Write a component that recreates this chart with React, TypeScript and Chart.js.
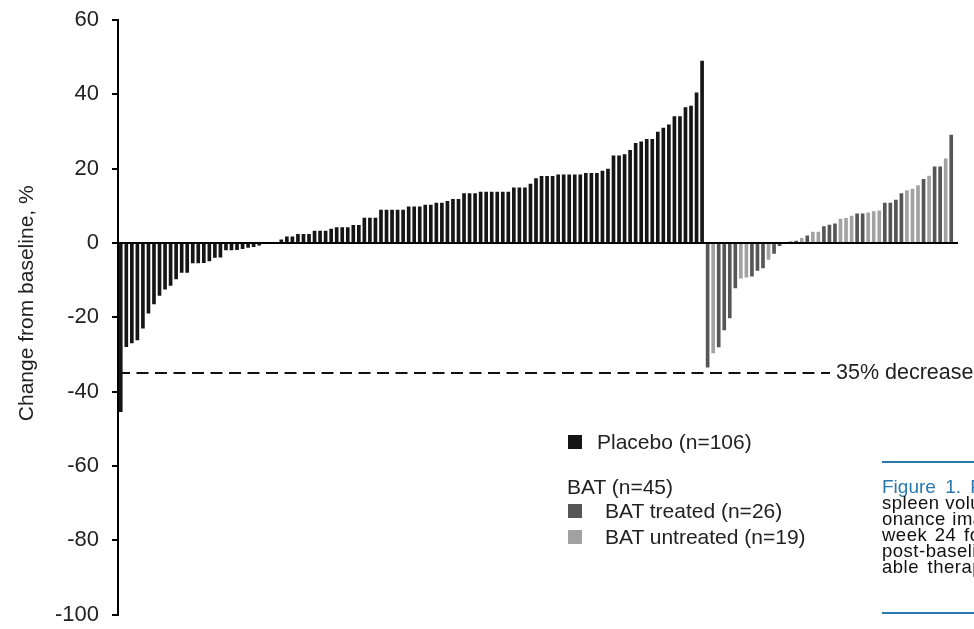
import React, { useEffect, useRef } from 'react';
import { Chart, registerables } from 'chart.js';

Chart.register(...registerables);

// Placebo patients, sorted (n=106)
const placeboValues: number[] = [
  -45.5, -28, -27, -26.2, -23, -19, -16.5, -14.2, -12.5, -11.5, -9.8, -8, -8, -5.5, -5.5, -5.4, -4.9, -4, -3.9,
  -2, -2, -1.9, -1.6, -1.3, -1.1, -0.7, -0.3, -0.1, 0.2,
  0.9, 1.7, 1.7, 2.4, 2.4, 2.4, 3.3, 3.3, 3.3, 3.8, 4.2, 4.2, 4.2, 4.8, 4.8, 6.8, 6.8, 6.8,
  8.9, 8.9, 8.9, 8.9, 8.9,
  9.8, 9.8, 9.8, 10.3, 10.3, 10.8, 10.8, 11.3, 11.8, 11.8, 13.4, 13.4, 13.4,
  13.8, 13.8, 13.8, 13.8, 13.8, 13.8, 14.9, 14.9, 14.9, 15.9, 17.4, 18.0, 18.0, 18.0,
  18.4, 18.4, 18.4, 18.4, 18.4, 18.8, 18.8, 18.8, 19.4, 20.0, 23.5, 23.5, 23.9, 25.0,
  26.9, 27.3, 28.0, 28.0, 29.9, 31.0, 31.9, 34.1, 34.1, 36.5, 36.9, 40.5, 49.0,
];

// BAT patients, sorted (n=45)
const batValues: number[] = [
  -33.5, -29.7, -28.1, -23.5, -20.3, -12.2, -9.6, -9.3, -9.0, -7.5, -6.8, -4.5, -2.9, -0.8, 0.1,
  0.4, 0.6, 1.3, 2.0, 3.0, 3.0, 4.5, 4.9, 5.2, 6.5, 6.7, 7.3, 7.9, 7.9, 8.2, 8.5, 8.7,
  10.8, 10.8, 11.6, 13.4, 14.2, 14.6, 15.5, 17.2, 18.1, 20.6, 20.6, 22.7, 29.1,
];

// T = BAT treated (n=26), U = BAT untreated (n=19)
const batGroups: string[] = [
  'T', 'U', 'T', 'T', 'T', 'T', 'U', 'U', 'T', 'T', 'T', 'U', 'T', 'T', 'U',
  'T', 'T', 'U', 'T', 'U', 'U', 'T', 'T', 'T', 'U', 'U', 'U', 'T', 'T', 'U', 'U', 'U',
  'T', 'T', 'T', 'T', 'U', 'U', 'U', 'T', 'U', 'T', 'T', 'U', 'T',
];

const yMin = -100;
const yMax = 60;
const yStep = 20;
const thresholdValue = -35;
const thresholdLabel = '35% decrease';
const yTitle = 'Change from baseline, %';

const seriesNames = ['Placebo (n=106)', 'BAT treated (n=26)', 'BAT untreated (n=19)'];
const batHeader = 'BAT (n=45)';

const COLORS = { placebo: '#151515', treated: '#565656', untreated: '#a2a2a2' };
const FONT = '"Liberation Sans", Arial, Helvetica, sans-serif';

const captionTitle = 'Figure 1. Percentage change in';
const captionLines = [
  { text: 'spleen volume by magnetic res-', ws: 0 },
  { text: 'onance imaging or computed', ws: 1 },
  { text: 'week 24 for patients with a', ws: 2 },
  { text: 'post-baseline assessment, best avail-', ws: 0 },
  { text: 'able therapy (BAT).', ws: 3 },
];

export default function App() {
  const canvasRef = useRef<HTMLCanvasElement>(null);

  useEffect(() => {
    if (!canvasRef.current) return;
    const nP = placeboValues.length;
    const labels = [
      ...placeboValues.map((_, i) => `P${i + 1}`),
      ...batValues.map((_, i) => `B${i + 1}`),
    ];
    const placeboData = labels.map((_, i) => (i < nP ? placeboValues[i] : null));
    const batData = (g: string) =>
      labels.map((_, i) => {
        const j = i - nP;
        return j >= 0 && batGroups[j] === g ? batValues[j] : null;
      });

    const refLines = {
      id: 'refLines',
      beforeDatasetsDraw(chart: any) {
        const { ctx, chartArea, scales } = chart;
        const y = scales.y.getPixelForValue(thresholdValue);
        const labelX = chartArea.right - 118;
        ctx.save();
        ctx.strokeStyle = '#111';
        ctx.lineWidth = 2;
        ctx.setLineDash([12, 6.5]);
        ctx.beginPath();
        ctx.moveTo(chartArea.left, y);
        ctx.lineTo(labelX - 6, y);
        ctx.stroke();
        ctx.restore();
        ctx.save();
        ctx.fillStyle = '#222';
        ctx.font = `21.5px ${FONT}`;
        ctx.textAlign = 'left';
        ctx.textBaseline = 'middle';
        ctx.fillText(thresholdLabel, labelX, y);
        ctx.restore();
        // y-axis title
        ctx.save();
        ctx.fillStyle = '#222';
        ctx.font = `21px ${FONT}`;
        ctx.textAlign = 'center';
        ctx.textBaseline = 'middle';
        ctx.translate(chartArea.left - 91, (chartArea.top + chartArea.bottom) / 2 - 14);
        ctx.rotate(-Math.PI / 2);
        ctx.fillText(yTitle, 0, 0);
        ctx.restore();
      },
      afterDatasetsDraw(chart: any) {
        const { ctx, chartArea, scales } = chart;
        const y = scales.y.getPixelForValue(0);
        ctx.save();
        ctx.strokeStyle = '#000';
        ctx.lineWidth = 2;
        ctx.beginPath();
        ctx.moveTo(chartArea.left, y);
        ctx.lineTo(chartArea.right + 4, y);
        ctx.stroke();
        ctx.restore();
      },
    };

    const common = { grouped: false, barPercentage: 0.66, categoryPercentage: 1, borderWidth: 0 };

    const chart = new Chart(canvasRef.current, {
      type: 'bar',
      data: {
        labels,
        datasets: [
          { label: seriesNames[0], data: placeboData, backgroundColor: COLORS.placebo, ...common },
          { label: seriesNames[1], data: batData('T'), backgroundColor: COLORS.treated, ...common },
          { label: seriesNames[2], data: batData('U'), backgroundColor: COLORS.untreated, ...common },
        ] as any,
      },
      options: {
        animation: false,
        responsive: false,
        maintainAspectRatio: false,
        layout: { padding: { top: 20, bottom: 14.5, right: 20, left: 0 } },
        plugins: { legend: { display: false }, tooltip: { enabled: false } },
        scales: {
          x: { display: false, offset: true },
          y: {
            min: yMin,
            max: yMax,
            afterFit: (s: any) => {
              s.width = 118;
              s.paddingTop = 0;
              s.paddingBottom = 0;
            },
            ticks: {
              stepSize: yStep,
              color: '#222',
              padding: 13,
              font: { family: FONT, size: 22 },
            },
            grid: {
              drawOnChartArea: false,
              drawTicks: true,
              tickLength: 6,
              color: '#000',
              lineWidth: 2,
            },
            border: { display: true, color: '#000', width: 2 },
            title: { display: false },
          },
        },
      },
      plugins: [refLines],
    } as any);

    return () => chart.destroy();
  }, []);

  const txt: React.CSSProperties = {
    position: 'absolute',
    fontFamily: FONT,
    color: '#222',
    fontSize: 21,
    lineHeight: '24px',
    whiteSpace: 'nowrap',
  };
  const sq = (color: string, top: number): React.CSSProperties => ({
    position: 'absolute',
    left: 568,
    top,
    width: 14,
    height: 14,
    background: color,
  });

  return (
    <div
      style={{
        position: 'fixed',
        left: 0,
        top: 0,
        width: 974,
        height: 629,
        overflow: 'hidden',
        background: '#fff',
      }}
    >
      <canvas ref={canvasRef} width={974} height={629} style={{ position: 'absolute', left: 0, top: 0, width: 974, height: 629 }} />

      <div style={sq(COLORS.placebo, 435)} />
      <div style={{ ...txt, left: 597, top: 430 }}>{seriesNames[0]}</div>
      <div style={{ ...txt, left: 567, top: 475 }}>{batHeader}</div>
      <div style={sq(COLORS.treated, 504)} />
      <div style={{ ...txt, left: 605, top: 499 }}>{seriesNames[1]}</div>
      <div style={sq(COLORS.untreated, 530)} />
      <div style={{ ...txt, left: 605, top: 525 }}>{seriesNames[2]}</div>

      <div style={{ position: 'absolute', left: 882, top: 461, width: 200, height: 2, background: '#2a78b0' }} />
      <div style={{ position: 'absolute', left: 882, top: 612, width: 200, height: 2, background: '#2a78b0' }} />
      <div style={{ ...txt, left: 882, top: 476, fontSize: 19, lineHeight: '22px', color: '#2a78b0', wordSpacing: 4 }}>
        {captionTitle}
      </div>
      {captionLines.map((line, i) => (
        <div
          key={i}
          style={{
            ...txt,
            left: 882,
            top: 494 + i * 16,
            fontSize: 18.5,
            lineHeight: '17px',
            letterSpacing: 0.5,
            color: '#111',
            wordSpacing: line.ws,
          }}
        >
          {line.text}
        </div>
      ))}
    </div>
  );
}
